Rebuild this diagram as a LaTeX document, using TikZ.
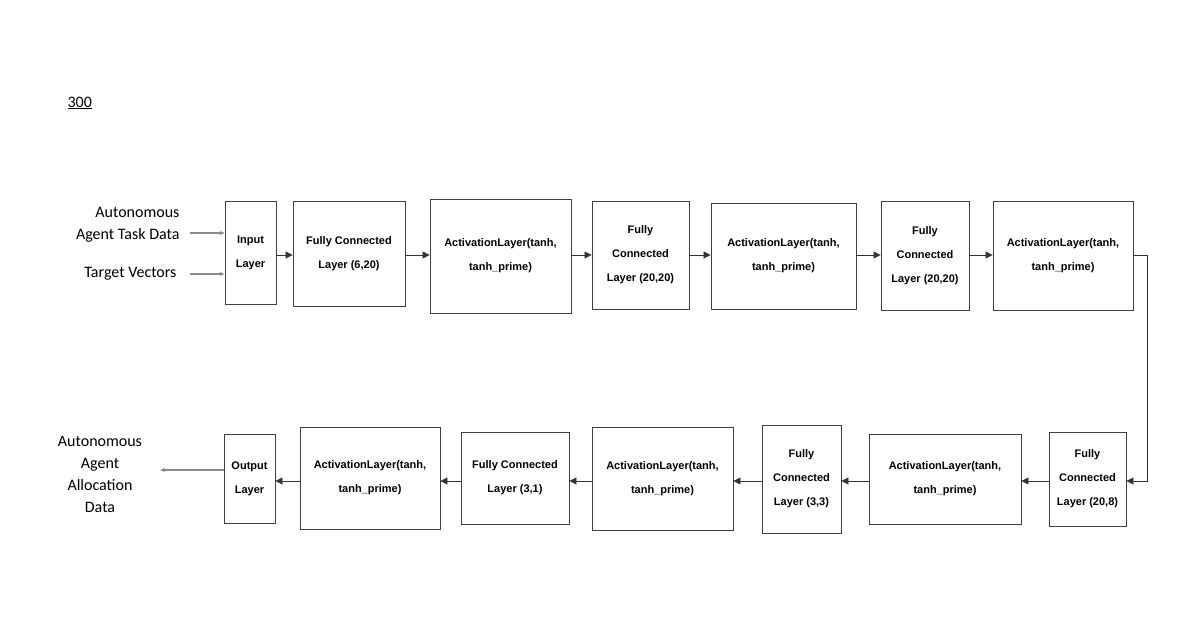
\documentclass[tikz,border=0pt]{standalone}
\usepackage{fontspec}
\setmainfont{Carlito}
\newfontfamily\boxfont{Liberation Sans}
\usetikzlibrary{arrows.meta}
\begin{document}
\begin{tikzpicture}[x=1pt,y=-1pt,
  box/.style={draw=black!75,line width=0.8pt,font=\boxfont\bfseries\fontsize{11}{24}\selectfont,align=center,inner sep=0pt},
  conn/.style={draw=black!80,line width=0.6pt,-{Triangle[length=7pt,width=7pt]}},
  gconn/.style={draw=black!45,line width=1.2pt,-{Stealth[length=5pt,width=4pt]}},
  lbl/.style={font=\fontsize{16}{22}\selectfont}]
\useasboundingbox (0,0) rectangle (1200,630);
\newcommand{\bx}[6]{\node[box,minimum width={#4-#2},minimum height={#5-#3}] (#1) at ({(#2+#4)/2},{(#3+#5)/2}) {#6};}
\bx{in}{225}{201}{276}{304}{Input\\Layer}
\bx{f1}{293}{201}{405}{306}{Fully Connected\\Layer (6,20)}
\bx{a1}{430}{199}{571}{313}{ActivationLayer(tanh,\\tanh\_prime)}
\bx{f2}{592}{201}{689}{309}{Fully\\Connected\\Layer (20,20)}
\bx{a2}{711}{203}{856}{309}{ActivationLayer(tanh,\\tanh\_prime)}
\bx{f3}{881}{201}{969}{310}{Fully\\Connected\\Layer (20,20)}
\bx{a3}{993}{201}{1133}{310}{ActivationLayer(tanh,\\tanh\_prime)}
\bx{f4}{1049}{432}{1126}{526}{Fully\\Connected\\Layer (20,8)}
\bx{a4}{869}{434}{1021}{524}{ActivationLayer(tanh,\\tanh\_prime)}
\bx{f5}{762}{425}{841}{533}{Fully\\Connected\\Layer (3,3)}
\bx{a5}{592}{427}{733}{530}{ActivationLayer(tanh,\\tanh\_prime)}
\bx{f6}{461}{432}{569}{524}{Fully Connected\\Layer (3,1)}
\bx{a6}{300}{427}{440}{529}{ActivationLayer(tanh,\\tanh\_prime)}
\bx{out}{224}{434}{275}{523}{Output\\Layer}
\draw[conn] (in.east|-0,255) -- (f1.west|-0,255);
\draw[conn] (f1.east|-0,255) -- (a1.west|-0,255);
\draw[conn] (a1.east|-0,255) -- (f2.west|-0,255);
\draw[conn] (f2.east|-0,255) -- (a2.west|-0,255);
\draw[conn] (a2.east|-0,255) -- (f3.west|-0,255);
\draw[conn] (f3.east|-0,255) -- (a3.west|-0,255);
\coordinate (c1) at (1147,255);
\coordinate (c2) at (1147,481);
\draw[conn] (a3.east|-0,255) -- (c1) -- (c2) -- (f4.east|-0,481);
\draw[conn] (f4.west|-0,481) -- (a4.east|-0,481);
\draw[conn] (a4.west|-0,481) -- (f5.east|-0,481);
\draw[conn] (f5.west|-0,481) -- (a5.east|-0,481);
\draw[conn] (a5.west|-0,481) -- (f6.east|-0,481);
\draw[conn] (f6.west|-0,481) -- (a6.east|-0,481);
\draw[conn] (a6.west|-0,481) -- (out.east|-0,481);
\node[lbl,align=right,anchor=east] (l1) at (183,225) {Autonomous\\Agent Task Data};
\node[lbl,anchor=east] (l2) at (180,274) {Target Vectors};
\coordinate (s1) at (190,233); \coordinate (s2) at (190,274);
\draw[gconn] (s1) -- (in.west|-0,233);
\draw[gconn] (s2) -- (in.west|-0,274);
\node[lbl,align=center] (l3) at (100,474) {Autonomous\\Agent\\Allocation\\Data};
\coordinate (e1) at (160,470);
\draw[gconn] (out.west|-0,470) -- (e1);
\node[lbl,anchor=west] (n300) at (64,103) {\underline{300}};
\end{tikzpicture}
\end{document}
